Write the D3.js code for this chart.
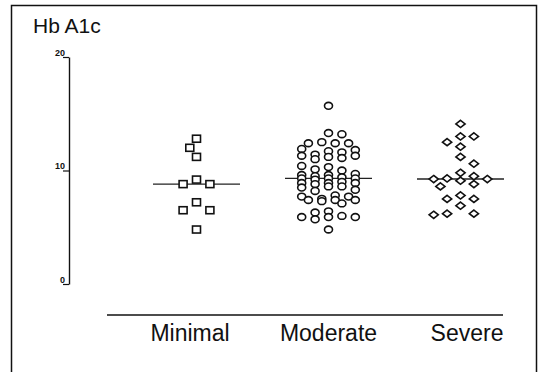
<!DOCTYPE html>
<html>
<head>
<meta charset="utf-8">
<script src="https://cdnjs.cloudflare.com/ajax/libs/d3/7.8.5/d3.min.js"></script>
<style>
  body { margin: 0; background: #fff; }
  text { font-family: "Liberation Sans", Arial, sans-serif; fill: #111; }
</style>
</head>
<body>
<div id="container"></div>
<script>
// groups and tick labels
var groups = ["Minimal", "Moderate", "Severe"];
var yTicks = [0, 10, 20];

// Hb A1c values
var minimal = [12.8, 12.0, 11.2, 9.2, 8.8, 8.8, 7.2, 6.5, 6.5, 4.8];
var moderate = [
  15.7,
  13.2, 13.3,
  12.4, 12.4, 12.4, 12.5,
  11.9, 11.7, 11.8, 11.6,
  11.4, 11.3, 11.3, 11.2,
  11.1, 11.0,
  10.3, 10.4,
  10.0, 10.1,
  9.6, 9.7, 9.6, 9.5,
  9.3, 9.2, 9.3, 9.4, 9.3,
  8.9, 8.9, 9.0, 8.8, 8.9,
  8.6, 8.6, 8.5,
  8.3, 8.2,
  7.7, 7.7, 7.8,
  7.4, 7.4, 7.5, 7.4, 7.3,
  7.1,
  6.3, 6.4,
  5.9, 6.0, 5.9, 5.9,
  5.7,
  4.8
];
var severe = [
  14.1, 13.0, 13.0, 12.5, 12.1, 11.2, 10.6, 9.8, 9.5,
  9.25, 9.1, 9.3, 8.8, 9.25, 8.6,
  7.5, 7.5, 7.8, 6.9, 6.2, 6.2, 6.1
];
var series = [minimal, moderate, severe];

var W = 544, H = 372;

var svg = d3
  .select("#container")
  .append("svg")
  .attr("width", W)
  .attr("height", H);

// frame round the figure (runs off the bottom like the scan)
svg
  .append("rect")
  .attr("x", 11.5)
  .attr("y", 5.5)
  .attr("width", 525)
  .attr("height", 420)
  .attr("fill", "none")
  .attr("stroke", "#111")
  .attr("stroke-width", 1.5);

var y = d3.scaleLinear().domain([0, 20]).range([284, 57]);
var x = d3.scalePoint().domain(groups).range([196.5, 460.5]);
var xLabel = d3.scalePoint().domain(groups).range([190, 467]);

// y axis
var yAxis = svg
  .append("g")
  .attr("transform", "translate(69,0)")
  .call(
    d3.axisLeft(y)
      .tickValues(yTicks)
      .tickSize(6)
      .tickSizeOuter(0)
  );
yAxis.select(".domain").attr("stroke", "#111").attr("stroke-width", 1.4);
yAxis.selectAll(".tick line").attr("stroke", "#111").attr("stroke-width", 1.2);
yAxis
  .selectAll(".tick text")
  .attr("x", -4)
  .attr("dy", -2)
  .style("font-size", "9px")
  .style("font-weight", "bold")
  .style("font-family", "Liberation Sans, Arial, sans-serif");

// title
svg
  .append("text")
  .attr("x", 33)
  .attr("y", 33)
  .style("font-size", "21px")
  .text("Hb A1c");

// baseline and group labels
svg
  .append("line")
  .attr("x1", 107)
  .attr("x2", 503)
  .attr("y1", 315)
  .attr("y2", 315)
  .attr("stroke", "#111")
  .attr("stroke-width", 1.5);

svg
  .selectAll(".glabel")
  .data(groups)
  .enter()
  .append("text")
  .attr("class", "glabel")
  .attr("x", d => xLabel(d))
  .attr("y", 341)
  .attr("text-anchor", "middle")
  .style("font-size", "23px")
  .text(d => d);

// spread points sideways over a fixed number of slots,
// taking the slot that overlaps the least with points already placed
function dodge(values, cx) {
  var step = 6.7, maxK = 4, rx = 13, ry = 10;
  var slots = [0];
  for (var k = 1; k <= maxK; k++) slots.push(k * step, -k * step);
  var pts = values.map(v => ({ v: v, py: y(v) }));
  pts.sort((a, b) => a.py - b.py);
  var placed = [];
  pts.forEach(function(p, i) {
    var best = null, bestCost = Infinity;
    slots.forEach(function(o, si) {
      // flip preferred side every other point
      var off = (i % 2 && o !== 0) ? -o : o;
      var cost = 0;
      placed.forEach(function(q) {
        var dx = (q.px - (cx + off)) / rx, dy = (q.py - p.py) / ry;
        var d = Math.sqrt(dx * dx + dy * dy);
        if (d < 1) cost += 1 - d;
      });
      cost += si * 0.001;
      if (cost < bestCost) { bestCost = cost; best = off; }
    });
    p.px = cx + best;
    placed.push(p);
  });
  return placed;
}

var shapes = ["square", "circle", "diamond"];

series.forEach(function(vals, gi) {
  var cx = x(groups[gi]);
  var med = d3.median(vals);

  // median line
  svg
    .append("line")
    .attr("x1", cx - 43.5)
    .attr("x2", cx + 43.5)
    .attr("y1", y(med))
    .attr("y2", y(med))
    .attr("stroke", "#222")
    .attr("stroke-width", 1.3);

  var pts = dodge(vals, cx);
  var g = svg.append("g");
  var shape = shapes[gi];

  if (shape === "square") {
    g.selectAll("rect")
      .data(pts)
      .enter()
      .append("rect")
      .attr("x", d => d.px - 4)
      .attr("y", d => d.py - 3.5)
      .attr("width", 8)
      .attr("height", 7);
  } else if (shape === "circle") {
    g.selectAll("ellipse")
      .data(pts)
      .enter()
      .append("ellipse")
      .attr("cx", d => d.px)
      .attr("cy", d => d.py)
      .attr("rx", 4)
      .attr("ry", 3.4);
  } else {
    g.selectAll("path")
      .data(pts)
      .enter()
      .append("path")
      .attr("d", d => "M" + d.px + "," + (d.py - 3.6) +
        "L" + (d.px + 4.6) + "," + d.py +
        "L" + d.px + "," + (d.py + 3.6) +
        "L" + (d.px - 4.6) + "," + d.py + "Z");
  }
  g.selectAll("*")
    .attr("fill", "#fff")
    .attr("stroke", "#111")
    .attr("stroke-width", 1.6);
});
</script>
</body>
</html>
